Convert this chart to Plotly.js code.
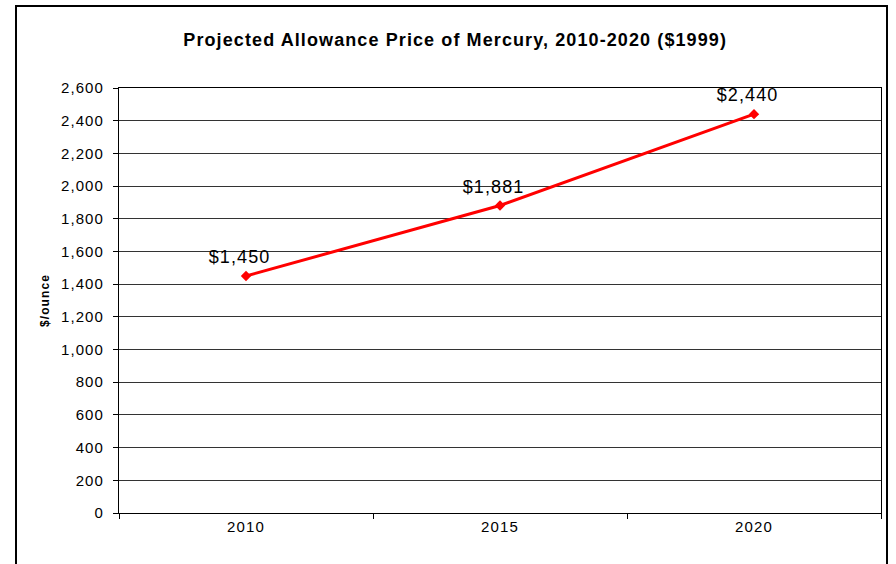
<!DOCTYPE html>
<html>
<head>
<meta charset="utf-8">
<script src="https://cdn.plot.ly/plotly-3.0.1.min.js"></script>
<style>
  html, body { margin: 0; padding: 0; background: #ffffff; overflow: hidden; }
  #chart { width: 896px; height: 564px; }
  /* the original render is spaced a little wider than plain Arial */
  #chart svg text { letter-spacing: 1.1px; }
</style>
</head>
<body>
<div id="chart"></div>
<script>
  // projected allowance prices, $1999 per ounce
  const years = ["2010", "2015", "2020"];
  const prices = [1450, 1881, 2440];
  const priceLabels = ["$1,450", "$1,881", "$2,440"];
  const yTicks = [0, 200, 400, 600, 800, 1000, 1200, 1400, 1600, 1800, 2000, 2200, 2400, 2600];

  const font = "Arial, 'Liberation Sans', sans-serif";

  const trace = {
    type: "scatter",
    mode: "lines+markers",
    x: years,
    y: prices,
    line: { color: "#ff0000", width: 3 },
    marker: { symbol: "diamond", size: 8, color: "#ff0000" },
    hoverinfo: "x+y"
  };

  // value labels sit just above each point, nudged a little left as in the original
  // (annotations on a category axis take the category index)
  const labelNotes = years.map((yr, i) => ({
    x: i,
    y: prices[i],
    text: priceLabels[i],
    showarrow: false,
    xanchor: "center",
    yanchor: "middle",
    xshift: -7,
    yshift: 19,
    font: { family: font, size: 18, color: "#000000" }
  }));

  const layout = {
    width: 896,
    height: 564,
    margin: { l: 119, r: 15, t: 88, b: 51 },
    paper_bgcolor: "#ffffff",
    plot_bgcolor: "#ffffff",
    showlegend: false,
    font: { family: font, size: 15, color: "#000000" },
    title: {
      text: "<b>Projected Allowance Price of Mercury, 2010-2020 ($1999)</b>",
      x: 0.508,
      xanchor: "center",
      y: 0.929,
      yanchor: "middle",
      font: { family: font, size: 18, color: "#000000" }
    },
    xaxis: {
      type: "category",
      range: [-0.5, 2.5],
      tickson: "boundaries",
      ticks: "outside",
      ticklen: 5,
      tickcolor: "#000000",
      showgrid: false,
      showline: true,
      linecolor: "#000000",
      linewidth: 1,
      mirror: true,
      zeroline: false,
      tickfont: { family: font, size: 15, color: "#000000" }
    },
    yaxis: {
      range: [0, 2600],
      tickvals: yTicks,
      tickformat: ",d",
      ticks: "outside",
      ticklen: 5,
      tickcolor: "#000000",
      ticklabelstandoff: 6,
      showgrid: true,
      gridcolor: "#333333",
      gridwidth: 1,
      showline: true,
      linecolor: "#000000",
      linewidth: 1,
      mirror: true,
      zeroline: false,
      tickfont: { family: font, size: 15, color: "#000000" },
      title: {
        text: "<b>$/ounce</b>",
        standoff: 14,
        font: { family: font, size: 12, color: "#000000" }
      }
    },
    annotations: labelNotes,
    shapes: [
      {
        type: "rect",
        xref: "paper",
        yref: "paper",
        x0: (16 - 119) / 762,
        x1: (887 - 119) / 762,
        y0: (513 - 580) / 425,
        y1: (513 - 6) / 425,
        line: { color: "#000000", width: 2 },
        fillcolor: "rgba(0,0,0,0)",
        layer: "above"
      }
    ]
  };

  Plotly.newPlot("chart", [trace], layout, { displayModeBar: false, staticPlot: true });
</script>
</body>
</html>
